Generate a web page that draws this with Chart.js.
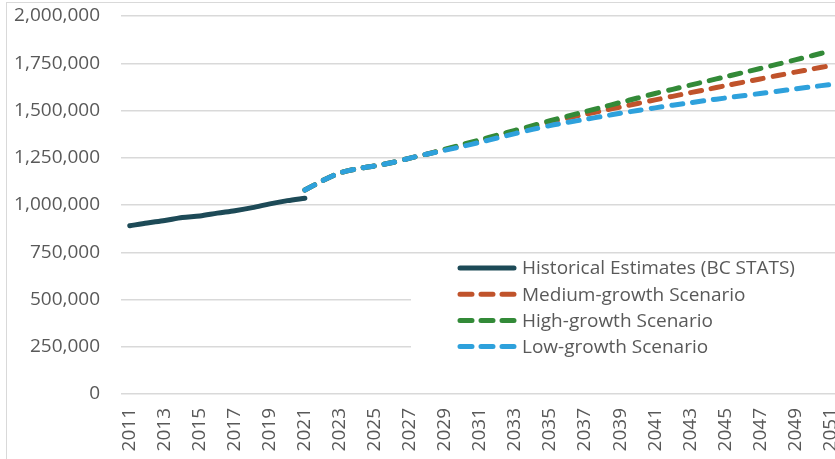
<!DOCTYPE html>
<html>
<head>
<meta charset="utf-8">
<script src="https://cdn.jsdelivr.net/npm/chart.js@4.4.1/dist/chart.umd.min.js"></script>
<style>
  html, body { margin: 0; padding: 0; background: #fff; overflow: hidden; }
  #wrap { width: 840px; height: 459px; }
</style>
</head>
<body>
<div id="wrap"><canvas id="myChart" width="840" height="459"></canvas></div>
<script>
// Years on the x axis
var years = ["2011", "2012", "2013", "2014", "2015", "2016", "2017", "2018", "2019", "2020",
  "2021", "2022", "2023", "2024", "2025", "2026", "2027", "2028", "2029", "2030",
  "2031", "2032", "2033", "2034", "2035", "2036", "2037", "2038", "2039", "2040",
  "2041", "2042", "2043", "2044", "2045", "2046", "2047", "2048", "2049", "2050", "2051"];

// Historical estimates, 2011 - 2021
var historical = [890000, 905000, 918000, 934000, 942000, 957000, 970000, 986000, 1006000, 1023000, 1036000];

// Projections, 2021 - 2051
var medium = [1079000, 1128000, 1170000, 1192000, 1207000, 1225000, 1248000, 1270000, 1293000, 1316000,
  1340000, 1365000, 1390000, 1415000, 1440000, 1460000, 1480000, 1499000, 1518000, 1537000,
  1556000, 1575000, 1594000, 1612000, 1631000, 1649000, 1667000, 1685000, 1703000, 1720000, 1737000];
var high = [1079000, 1128000, 1170000, 1192000, 1207000, 1225000, 1248000, 1270000, 1295000, 1320000,
  1345000, 1370000, 1395000, 1420000, 1446000, 1470000, 1494000, 1518000, 1542000, 1566000,
  1590000, 1612000, 1634000, 1656000, 1678000, 1700000, 1722000, 1745000, 1768000, 1791000, 1815000];
var low = [1079000, 1128000, 1170000, 1192000, 1207000, 1225000, 1248000, 1270000, 1290000, 1310000,
  1332000, 1355000, 1378000, 1400000, 1420000, 1437000, 1453000, 1469000, 1485000, 1500000,
  1514000, 1528000, 1541000, 1554000, 1566000, 1578000, 1590000, 1602000, 1614000, 1626000, 1637000];

// y axis ticks
var yTicks = [0, 250000, 500000, 750000, 1000000, 1250000, 1500000, 1750000, 2000000];

var names = ["Historical Estimates (BC STATS)", "Medium-growth Scenario", "High-growth Scenario", "Low-growth Scenario"];
var colors = ["#1d4a57", "#c0532b", "#338a38", "#2ea1dc"];

var textColor = "#595959";
var gridColor = "#d9d9d9";
var fontFamily = "'Open Sans', sans-serif";

// projections only start in 2021, pad the earlier years
function fromYear(start, values) {
  var out = [];
  for (var i = 0; i < years.length; i++) {
    var j = i - years.indexOf(start);
    out.push(j >= 0 && j < values.length ? values[j] : null);
  }
  return out;
}

var dash = [11, 10];

function lineSet(idx, values, dashed, order) {
  return {
    label: names[idx],
    data: values,
    borderColor: colors[idx],
    backgroundColor: colors[idx],
    borderWidth: 5,
    borderDash: dashed ? dash : [],
    borderCapStyle: "round",
    borderJoinStyle: "round",
    pointRadius: 0,
    pointHoverRadius: 0,
    tension: 0.3,
    fill: false,
    spanGaps: false,
    order: order
  };
}

// light border round the whole chart
var frame = {
  id: "frame",
  beforeDraw: function(chart) {
    var ctx = chart.ctx;
    ctx.save();
    ctx.fillStyle = "#fff";
    ctx.fillRect(0, 0, chart.width, chart.height);
    ctx.strokeStyle = gridColor;
    ctx.lineWidth = 1;
    ctx.strokeRect(6.5, 2.5, chart.width, chart.height);
    ctx.restore();
  }
};

// legend sits inside the plot, on a white box over the gridlines
var innerLegend = {
  id: "innerLegend",
  beforeDatasetsDraw: function(chart) {
    var ctx = chart.ctx;
    var area = chart.chartArea;
    ctx.save();
    ctx.fillStyle = "#fff";
    ctx.fillRect(411, 257, area.right - 411 + 2, 135);

    var x0 = 460, x1 = 514, y0 = 268, step = 26.2;
    ctx.font = "19px " + fontFamily;
    ctx.textBaseline = "middle";
    ctx.textAlign = "left";
    for (var i = 0; i < names.length; i++) {
      var y = y0 + i * step;
      ctx.strokeStyle = colors[i];
      ctx.lineWidth = 5;
      ctx.lineCap = "round";
      ctx.setLineDash(i === 0 ? [] : [12, 9]);
      ctx.beginPath();
      ctx.moveTo(x0, y);
      ctx.lineTo(i === 0 ? x1 : x1 + 2, y);
      ctx.stroke();
      ctx.setLineDash([]);
      ctx.fillStyle = textColor;
      ctx.fillText(names[i], 522, y + 1);
    }
    ctx.restore();
  }
};

var ctx = document.getElementById("myChart");

var myChart = new Chart(ctx, {
  type: "line",
  data: {
    labels: years,
    datasets: [
      lineSet(0, fromYear("2011", historical), false, 0),
      lineSet(1, fromYear("2021", medium), true, 3),
      lineSet(2, fromYear("2021", high), true, 2),
      lineSet(3, fromYear("2021", low), true, 1)
    ]
  },
  options: {
    responsive: false,
    animation: false,
    events: [],
    layout: {
      padding: { left: 7, right: 1, top: 0, bottom: 0 }
    },
    plugins: {
      legend: { display: false },
      tooltip: { enabled: false }
    },
    scales: {
      x: {
        offset: true,
        grid: { display: false, drawTicks: false },
        border: { display: false },
        ticks: {
          autoSkip: false,
          maxRotation: 90,
          minRotation: 90,
          padding: 14,
          color: textColor,
          font: { family: fontFamily, size: 19 },
          callback: function(val, i) {
            return i % 2 === 0 ? years[i] : "";
          }
        },
        afterFit: function(scale) {
          scale.height = 65;
          scale.paddingLeft = 0;
          scale.paddingRight = 0;
        }
      },
      y: {
        min: 0,
        max: 2000000,
        afterBuildTicks: function(scale) {
          scale.ticks = yTicks.map(function(v) { return { value: v }; });
        },
        grid: { color: gridColor, lineWidth: 1.5, drawTicks: false },
        border: { display: false },
        ticks: {
          padding: 21,
          color: textColor,
          font: { family: fontFamily, size: 19 },
          callback: function(v) { return v.toLocaleString("en-US"); }
        },
        afterFit: function(scale) {
          scale.width = 114;
          scale.paddingTop = 16;
          scale.paddingBottom = 0;
        }
      }
    }
  },
  plugins: [frame, innerLegend]
});
</script>
</body>
</html>
